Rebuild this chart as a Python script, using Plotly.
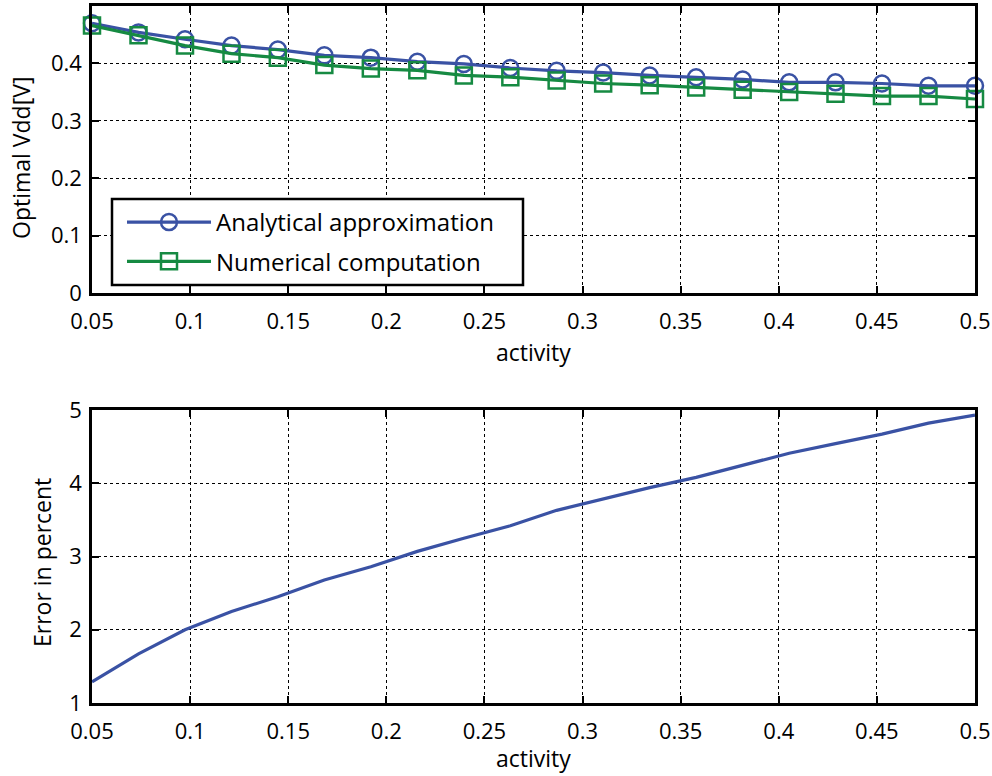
import plotly.graph_objects as go

activity = [0.05, 0.0737, 0.0974, 0.1211, 0.1447, 0.1684, 0.1921, 0.2158, 0.2395, 0.2632,
            0.2868, 0.3105, 0.3342, 0.3579, 0.3816, 0.4053, 0.4289, 0.4526, 0.4763, 0.5]
analytical = [0.470, 0.454, 0.442, 0.431, 0.424, 0.414, 0.410, 0.403, 0.399, 0.392,
              0.387, 0.384, 0.379, 0.376, 0.372, 0.367, 0.367, 0.365, 0.361, 0.361]
numerical = [0.466, 0.449, 0.431, 0.417, 0.410, 0.397, 0.391, 0.388, 0.379, 0.376,
             0.370, 0.365, 0.362, 0.358, 0.354, 0.350, 0.347, 0.343, 0.343, 0.338]
error_pct = [1.29, 1.67, 2.00, 2.25, 2.45, 2.68, 2.86, 3.07, 3.25, 3.42,
             3.63, 3.79, 3.94, 4.08, 4.24, 4.41, 4.54, 4.67, 4.82, 4.93]

x_ticks = [0.05, 0.1, 0.15, 0.2, 0.25, 0.3, 0.35, 0.4, 0.45, 0.5]
x_ticktext = ["0.05", "0.1", "0.15", "0.2", "0.25", "0.3", "0.35", "0.4", "0.45", "0.5"]
y1_ticks = [0, 0.1, 0.2, 0.3, 0.4]
y1_ticktext = ["0", "0.1", "0.2", "0.3", "0.4"]
y2_ticks = [1, 2, 3, 4, 5]
y2_ticktext = ["1", "2", "3", "4", "5"]

BLUE = "#3a52a4"
GREEN = "#168a42"
FONT = "Open Sans"
W, H = 992, 776

fig = go.Figure()
fig.add_trace(go.Scatter(x=activity, y=analytical, mode="lines+markers",
                         name="Analytical approximation", legendgroup="a",
                         line=dict(color=BLUE, width=3.2),
                         marker=dict(symbol="circle-open", size=16, color=BLUE, line=dict(width=2.5, color=BLUE)),
                         cliponaxis=False, xaxis="x", yaxis="y"))
fig.add_trace(go.Scatter(x=activity, y=numerical, mode="lines+markers",
                         name="Numerical computation", legendgroup="b",
                         line=dict(color=GREEN, width=3.2),
                         marker=dict(symbol="square-open", size=16, color=GREEN, line=dict(width=2.5, color=GREEN)),
                         cliponaxis=False, xaxis="x", yaxis="y"))
fig.add_trace(go.Scatter(x=activity, y=error_pct, mode="lines", showlegend=False,
                         line=dict(color=BLUE, width=3.2), xaxis="x2", yaxis="y2"))

common = dict(showline=True, linecolor="black", linewidth=2.5, mirror="ticks",
              ticks="inside", ticklen=7, tickwidth=1.5, tickcolor="black",
              showgrid=True, gridcolor="black", gridwidth=1.2, griddash="dot",
              zeroline=False, tickfont=dict(family=FONT, size=22, color="black"),
              automargin=False)

xd = [92 / W, 975 / W]
fig.update_layout(
    width=W, height=H, margin=dict(l=0, r=0, t=0, b=0),
    paper_bgcolor="white", plot_bgcolor="white",
    font=dict(family=FONT, size=22, color="black"),
    xaxis=dict(domain=xd, range=[0.05, 0.5], tickvals=x_ticks, ticktext=x_ticktext, anchor="y",
               ticklabelstandoff=7, **common),
    yaxis=dict(domain=[1 - 293 / H, 1 - 6 / H], range=[0, 0.5], tickvals=y1_ticks, ticktext=y1_ticktext,
               anchor="x", ticklabelstandoff=3, **common),
    xaxis2=dict(domain=xd, range=[0.05, 0.5], tickvals=x_ticks, ticktext=x_ticktext, anchor="y2",
                ticklabelstandoff=7, **common),
    yaxis2=dict(domain=[1 - 703 / H, 1 - 410 / H], range=[1, 5], tickvals=y2_ticks, ticktext=y2_ticktext,
                anchor="x2", ticklabelstandoff=3, **common),
    legend=dict(x=122 / W, y=1 - 200 / H, xanchor="left", yanchor="top",
                bgcolor="rgba(0,0,0,0)", borderwidth=0,
                font=dict(family=FONT, size=24, color="black"), itemwidth=84,
                traceorder="grouped", tracegroupgap=5),
)

# legend frame
fig.add_shape(type="rect", xref="paper", yref="paper",
              x0=112 / W, x1=523 / W, y0=1 - 285 / H, y1=1 - 199 / H,
              line=dict(color="black", width=2.5), fillcolor="white", layer="above")

titles = [
    dict(text="activity", x=(92 + 975) / 2 / W, y=1 - 352 / H, textangle=0),
    dict(text="activity", x=(92 + 975) / 2 / W, y=1 - 758 / H, textangle=0),
    dict(text="Optimal Vdd[V]", x=21 / W, y=1 - 158 / H, textangle=-90),
    dict(text="Error in percent", x=42 / W, y=1 - 563 / H, textangle=-90),
]
for t in titles:
    fig.add_annotation(text=t["text"], x=t["x"], y=t["y"], xref="paper", yref="paper",
                       xanchor="center", yanchor="middle", showarrow=False, textangle=t["textangle"],
                       font=dict(family=FONT, size=23, color="black"))

fig.write_html("out.html")
